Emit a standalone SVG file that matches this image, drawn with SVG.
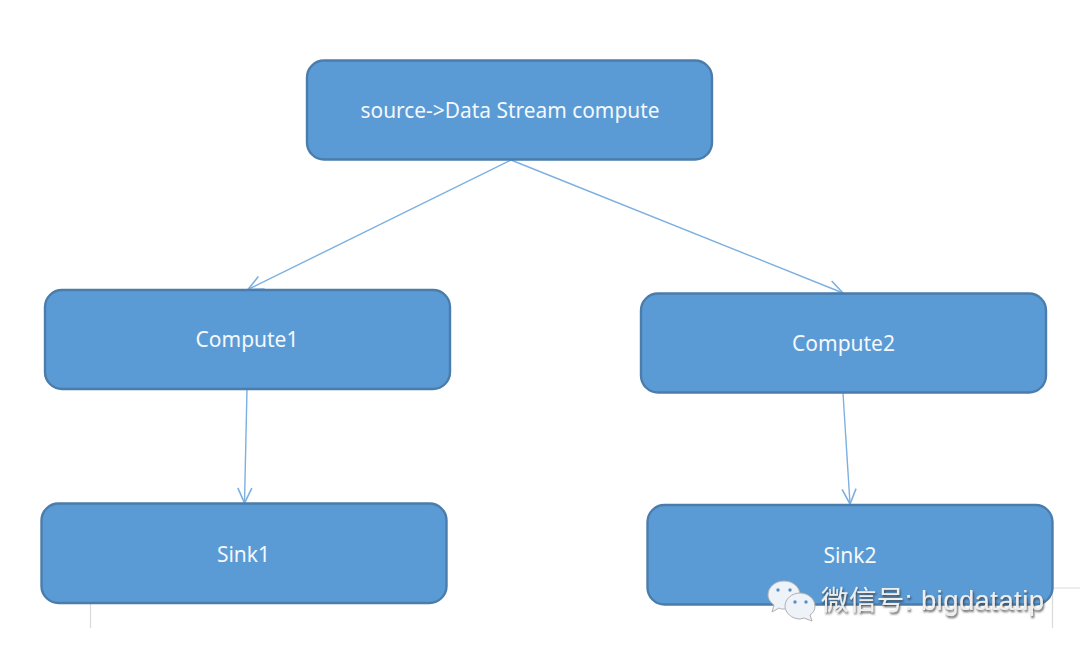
<svg xmlns="http://www.w3.org/2000/svg" width="1080" height="653" viewBox="0 0 1080 653">
<style>
.box{fill:#5b9bd5;stroke:#4a7dab;stroke-width:2.4}
.lbl{font-family:"Noto Sans","Open Sans","Liberation Sans",sans-serif;font-size:21px;fill:#f4f8fc;text-anchor:middle}
.wm{font-family:"Liberation Sans","Noto Sans CJK SC",sans-serif;font-size:27.5px;fill:#eeeeee}
.conn{fill:none;stroke:#7cb0e0;stroke-width:1.4}
.page{fill:none;stroke:#d9d9d9;stroke-width:1.2}
.bub{fill:#eef3f9;stroke:#b0b0b0;stroke-width:1}
.eye{fill:#5b8fbf}
</style>
<defs>
<filter id="shadow" x="-5%" y="-20%" width="110%" height="150%">
<feDropShadow dx="1" dy="2" stdDeviation="0.8" flood-color="#333" flood-opacity="0.85"/>
</filter>
<marker id="open" markerUnits="userSpaceOnUse" markerWidth="20" markerHeight="20" viewBox="-16 -10 18 20" refX="0" refY="0" orient="auto">
<path d="M-15,-7 L0,0 L-15,7" fill="none" stroke="#7cb0e0" stroke-width="1.6"/>
</marker>
</defs>
<rect width="1080" height="653" fill="#fff"/>
<g id="page-marks">
<path class="page" d="M90.500,603V628"/>
<path class="page" d="M1052.500,588H1080M1052.500,588V628"/>
</g>
<g id="connectors">
<line class="conn" x1="511" y1="160" x2="248" y2="289.500" marker-end="url(#open)"/>
<line class="conn" x1="511" y1="160" x2="843" y2="293" marker-end="url(#open)"/>
<line class="conn" x1="247" y1="389" x2="244.500" y2="503" marker-end="url(#open)"/>
<line class="conn" x1="843" y1="393" x2="850" y2="504" marker-end="url(#open)"/>
</g>
<g id="node-source">
<rect class="box" x="307" y="60.500" width="405" height="99" rx="17"/>
<text class="lbl" x="510" y="118" textLength="299" lengthAdjust="spacingAndGlyphs">source-&gt;Data Stream compute</text>
</g>
<g id="node-compute1">
<rect class="box" x="45" y="290" width="405" height="99" rx="17"/>
<text class="lbl" x="247" y="347">Compute1</text>
</g>
<g id="node-compute2">
<rect class="box" x="641" y="293.500" width="405" height="99" rx="17"/>
<text class="lbl" x="843.500" y="351">Compute2</text>
</g>
<g id="node-sink1">
<rect class="box" x="41.500" y="503.500" width="405" height="99.500" rx="17"/>
<text class="lbl" x="243.500" y="561.500">Sink1</text>
</g>
<g id="node-sink2">
<rect class="box" x="647.500" y="505" width="405" height="99.500" rx="17"/>
<text class="lbl" x="850" y="562.500">Sink2</text>
</g>
<g id="watermark">
<path class="bub" d="M784,581c9,0 16,6 16,14c0,8 -7,14 -16,14c-2,0 -3,0 -5,-1l-7,4l2,-7c-3,-2 -6,-6 -6,-10c0,-8 7,-14 16,-14z"/>
<circle class="eye" cx="778" cy="590" r="1.700"/><circle class="eye" cx="790" cy="590" r="1.700"/>
<path class="bub" d="M800,593c8,0 15,6 15,13c0,4 -2,7 -5,9l2,6l-8,-3c-1,0 -3,1 -4,1c-8,0 -15,-6 -15,-13c0,-7 7,-13 15,-13z"/>
<circle class="eye" cx="795" cy="602" r="1.700"/><circle class="eye" cx="806" cy="602" r="1.700"/>
<text class="wm" x="821" y="610" filter="url(#shadow)" textLength="223">微信号: bigdatatip</text>
</g>
</svg>
